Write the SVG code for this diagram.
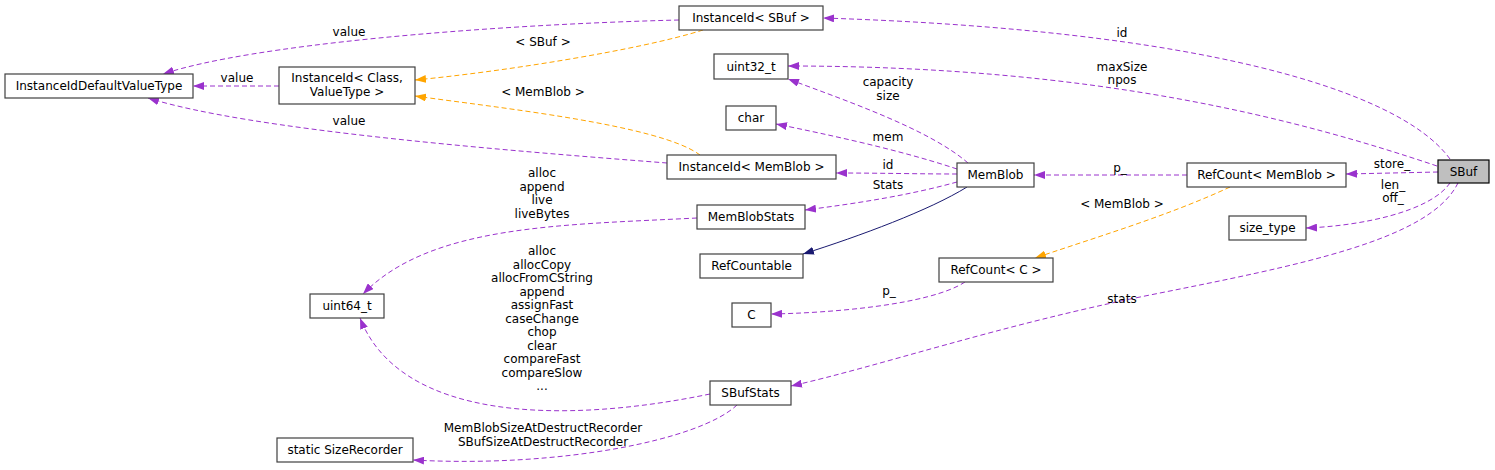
<svg xmlns="http://www.w3.org/2000/svg" width="1495" height="470" viewBox="0 0 1495 470">
<style>
text{font-family:"DejaVu Sans","Liberation Sans",sans-serif;font-size:12px;fill:#000;text-anchor:middle}
.box{fill:#fff;stroke:#404040;stroke-width:1.2}
.cur{fill:#bfbfbf;stroke:#000;stroke-width:1.2}
.e{fill:none;stroke-width:1}
.p{stroke:#9a32cd;stroke-dasharray:5,3;marker-end:url(#ap)}
.o{stroke:#ffa500;stroke-dasharray:5,3;marker-end:url(#ao)}
.n{stroke:#191970;marker-end:url(#an)}
</style>
<defs>
<marker id="ap" viewBox="0 0 11 8" refX="11" refY="4" markerWidth="11" markerHeight="8" markerUnits="userSpaceOnUse" orient="auto"><path d="M0,0L11,4L0,8z" fill="#9a32cd"/></marker>
<marker id="ao" viewBox="0 0 11 8" refX="11" refY="4" markerWidth="11" markerHeight="8" markerUnits="userSpaceOnUse" orient="auto"><path d="M0,0L11,4L0,8z" fill="#ffa500"/></marker>
<marker id="an" viewBox="0 0 11 8" refX="11" refY="4" markerWidth="11" markerHeight="8" markerUnits="userSpaceOnUse" orient="auto"><path d="M0,0L11,4L0,8z" fill="#191970"/></marker>
</defs>
<rect width="1495" height="470" fill="#fff"/>
<g id="edges">
<path class="e p" d="M1450,159 C1400,90 1200,30 823,18"/>
<text x="1122" y="37">id</text>
<path class="e p" d="M1437,166 C1300,120 1100,66 788,66"/>
<text x="1122" y="71">maxSize</text><text x="1122" y="84">npos</text>
<path class="e p" d="M968,163 C930,130 850,102 788,79"/>
<text x="888" y="86">capacity</text><text x="888" y="100">size</text>
<path class="e p" d="M957,169 C900,150 830,135 776,124"/>
<text x="888" y="141">mem</text>
<path class="e p" d="M957,174 C920,174 880,173 836,173"/>
<text x="888" y="169">id</text>
<path class="e p" d="M957,182 C910,195 860,203 805,210"/>
<text x="888" y="189">Stats</text>
<path class="e n" d="M967,187 C930,210 860,236 803,254"/>
<path class="e p" d="M1187,175 L1034,175"/>
<text x="1120" y="172">p_</text>
<path class="e p" d="M1438,172 L1346,174"/>
<text x="1392" y="168">store_</text>
<path class="e p" d="M1450,183 C1430,212 1360,226 1306,228"/>
<text x="1393" y="189">len_</text><text x="1393" y="202">off_</text>
<path class="e p" d="M1458,183 C1430,240 1300,265 1150,295 C1000,325 880,366 791,386"/>
<text x="1122" y="303">stats</text>
<path class="e o" d="M1230,187 C1170,215 1100,236 1035,258"/>
<text x="1122" y="208">&lt; MemBlob &gt;</text>
<path class="e p" d="M965,282 C930,305 830,313 771,314"/>
<text x="889" y="295">p_</text>
<path class="e p" d="M697,218 C560,225 430,225 363,294"/>
<text x="542" y="177">alloc</text><text x="542" y="190.5">append</text><text x="542" y="204">live</text><text x="542" y="217.5">liveBytes</text>
<path class="e p" d="M710,394 C560,425 400,420 360,318"/>
<text x="542" y="255">alloc</text><text x="542" y="268.5">allocCopy</text><text x="542" y="282">allocFromCString</text><text x="542" y="295.5">append</text><text x="542" y="309">assignFast</text><text x="542" y="322.5">caseChange</text><text x="542" y="336">chop</text><text x="542" y="349.5">clear</text><text x="542" y="363">compareFast</text><text x="542" y="376.5">compareSlow</text><text x="542" y="390">...</text>
<path class="e p" d="M737,405 C700,440 560,468 413,460"/>
<text x="543" y="432">MemBlobSizeAtDestructRecorder</text><text x="543" y="445.5">SBufSizeAtDestructRecorder</text>
<path class="e p" d="M679,20 C480,25 250,45 163,74"/>
<text x="349" y="36">value</text>
<path class="e p" d="M279,86 L193,86"/>
<text x="237" y="82">value</text>
<path class="e p" d="M667,163 C500,150 250,130 148,98"/>
<text x="349" y="125">value</text>
<path class="e o" d="M703,30 C640,50 500,72 415,80"/>
<text x="543" y="46">&lt; SBuf &gt;</text>
<path class="e o" d="M700,155 C660,125 500,108 415,96"/>
<text x="543" y="95.5">&lt; MemBlob &gt;</text>
</g>
<g id="SBuf"><rect class="cur" x="1438" y="160" width="51" height="23"/><text x="1463.5" y="175.5">SBuf</text></g>
<g id="InstanceIdSBuf"><rect class="box" x="679" y="6" width="144" height="24"/><text x="751" y="22">InstanceId&lt; SBuf &gt;</text></g>
<g id="InstanceIdDefaultValueType"><rect class="box" x="5" y="74" width="188" height="24"/><text x="99" y="90">InstanceIdDefaultValueType</text></g>
<g id="InstanceIdClass"><rect class="box" x="279" y="67" width="136" height="37"/><text x="347" y="82">InstanceId&lt; Class,</text><text x="347" y="96">ValueType &gt;</text></g>
<g id="uint32_t"><rect class="box" x="714" y="54" width="74" height="25"/><text x="751" y="70.5">uint32_t</text></g>
<g id="char"><rect class="box" x="726" y="106" width="50" height="24"/><text x="751" y="122">char</text></g>
<g id="InstanceIdMemBlob"><rect class="box" x="667" y="155" width="169" height="24"/><text x="751.5" y="171">InstanceId&lt; MemBlob &gt;</text></g>
<g id="MemBlob"><rect class="box" x="957" y="163" width="77" height="24"/><text x="995.5" y="179">MemBlob</text></g>
<g id="RefCountMemBlob"><rect class="box" x="1187" y="163" width="159" height="24"/><text x="1266.5" y="179">RefCount&lt; MemBlob &gt;</text></g>
<g id="MemBlobStats"><rect class="box" x="697" y="205" width="108" height="24"/><text x="751" y="221">MemBlobStats</text></g>
<g id="RefCountable"><rect class="box" x="700" y="254" width="103" height="24"/><text x="751.5" y="270">RefCountable</text></g>
<g id="RefCountC"><rect class="box" x="939" y="258" width="114" height="24"/><text x="996" y="274">RefCount&lt; C &gt;</text></g>
<g id="size_type"><rect class="box" x="1229" y="216" width="77" height="24"/><text x="1267.5" y="232">size_type</text></g>
<g id="uint64_t"><rect class="box" x="310" y="294" width="74" height="24"/><text x="347" y="310">uint64_t</text></g>
<g id="C"><rect class="box" x="732" y="303" width="39" height="24"/><text x="751.5" y="319">C</text></g>
<g id="SBufStats"><rect class="box" x="710" y="381" width="81" height="24"/><text x="750.5" y="397">SBufStats</text></g>
<g id="SizeRecorder"><rect class="box" x="277" y="438" width="136" height="24"/><text x="345" y="454">static SizeRecorder</text></g>
</svg>
